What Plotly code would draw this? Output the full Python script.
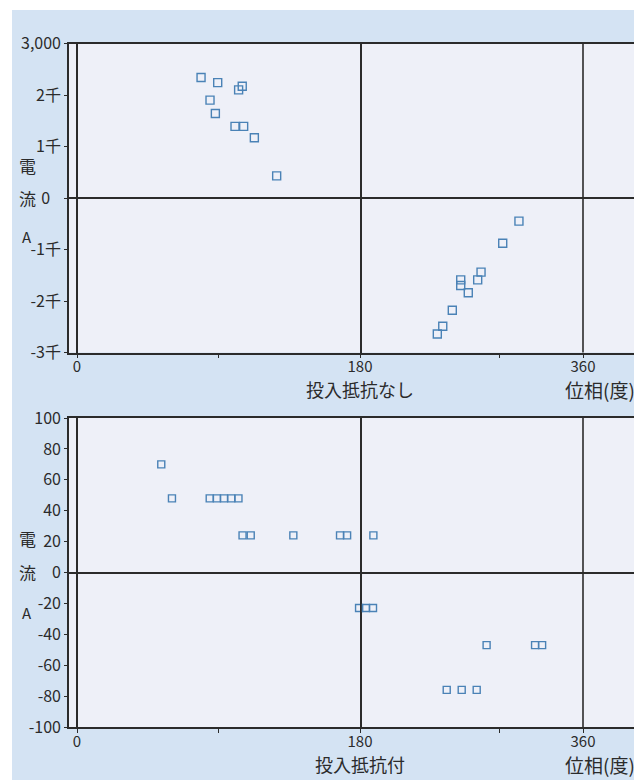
import plotly.graph_objects as go

W, H = 634, 780
FONT = "Noto Sans CJK JP"
INK = "#2b2b2b"
MARK = "#4a82b6"

# Phase (deg) and current (A) samples, no series resistor
phase_open = [78.9, 89.5, 105.1, 102.8, 84.6, 88.0, 100.5, 106.0, 112.8, 127.0,
              308.3, 295.2, 277.7, 275.0, 261.3, 261.3, 267.4, 254.5, 246.8, 242.4]
current_open = [2340, 2240, 2170, 2100, 1900, 1640, 1390, 1390, 1170, 430,
                -450, -880, -1440, -1590, -1590, -1700, -1840, -2180, -2490, -2640]

# Phase (deg) and current (A) samples, with series resistor
phase_res = [53.6, 60.4, 84.4, 89.0, 93.5, 98.1, 102.7, 105.3, 110.5, 137.6,
             167.3, 171.8, 190.8, 179.4, 184.8, 190.5, 282.2, 321.3, 327.0,
             250.0, 262.1, 274.2]
current_res = [70, 48, 48, 48, 48, 48, 48, 24, 24, 24,
               24, 24, 24, -23, -23, -23, -47, -47, -47,
               -76, -76, -76]

y_ticks_open = [-3000, -2000, -1000, 0, 1000, 2000, 3000]
y_text_open = ["-3千", "-2千", "-1千", "0\u00a0\u00a0\u00a0", "1千", "2千", "3,000"]
y_ticks_res = [-100, -80, -60, -40, -20, 0, 20, 40, 60, 80, 100]
y_text_res = ["-100", "-80", "-60", "-40", "-20", "0", "20", "40", "60", "80", "100"]

x_ticks_left = [0, 90]
x_text_left = ["0", ""]
x_ticks_right = [180, 293, 360]
x_text_right = ["180", "", "360"]


def fx(px):
    return px / W


def fy(py):
    return 1 - py / H


# The phase axis is drawn in two linear halves: 0-180 and 180-360
LEFT_DOM = [fx(69), fx(360)]
RIGHT_DOM = [fx(360), 1.0]
LEFT_RANGE = [-8 * 180 / 283, 180]
RIGHT_RANGE = [180, 180 + 274 * 180 / 223]

panels = [
    dict(dom=[fy(352.5), fy(43.5)], yr=[-3000, 3000], tv=y_ticks_open, tt=y_text_open,
         xs=phase_open, ys=current_open, size=8,
         xtitle="投入抵抗なし", ytitle_y=[165, 198, 236], xtitle_y=389),
    dict(dom=[fy(727), fy(418)], yr=[-100, 100], tv=y_ticks_res, tt=y_text_res,
         xs=phase_res, ys=current_res, size=7,
         xtitle="投入抵抗付", ytitle_y=[538, 572, 612], xtitle_y=764),
]

fig = go.Figure()
layout = dict(
    width=W, height=H,
    autosize=False,
    margin=dict(l=0, r=0, t=0, b=0, pad=0, autoexpand=False),
    paper_bgcolor="white",
    plot_bgcolor="rgba(0,0,0,0)",
    showlegend=False,
    font=dict(family=FONT, size=16, color=INK),
)

shapes = [
    dict(type="rect", xref="paper", yref="paper", x0=fx(12), x1=1, y0=0, y1=fy(10),
         fillcolor="#d4e3f3", line=dict(width=0), layer="below"),
]
annotations = []


def sx(n):
    return "x" if n == 1 else f"x{n}"


def sy(n):
    return "y" if n == 1 else f"y{n}"


for i, p in enumerate(panels):
    nl, nr = 2 * i + 1, 2 * i + 2

    shapes.append(dict(type="rect", xref="paper", yref="paper", x0=fx(69), x1=1,
                       y0=p["dom"][0], y1=p["dom"][1], fillcolor="#eef0f8",
                       line=dict(width=0), layer="below"))

    axis_common = dict(showgrid=False, linecolor=INK, linewidth=1.6,
                       tickcolor=INK, tickwidth=1.4, ticks="outside",
                       automargin=False, fixedrange=True,
                       tickfont=dict(family=FONT, size=16, color=INK))
    x_common = dict(axis_common, ticklabelstandoff=-4,
                    tickfont=dict(family=FONT, size=15, color=INK))

    layout[f"xaxis{'' if nl == 1 else nl}"] = dict(
        x_common, domain=LEFT_DOM, range=LEFT_RANGE, anchor=sy(nl),
        showline=True, mirror=True, ticklen=4, tickmode="array",
        tickvals=x_ticks_left, ticktext=x_text_left,
        zeroline=True, zerolinecolor=INK, zerolinewidth=1.6)
    layout[f"xaxis{nr}"] = dict(
        x_common, domain=RIGHT_DOM, range=RIGHT_RANGE, anchor=sy(nr),
        showline=True, mirror=True, ticklen=4, tickmode="array",
        tickvals=x_ticks_right, ticktext=x_text_right, zeroline=False)
    layout[f"yaxis{'' if nl == 1 else nl}"] = dict(
        axis_common, domain=p["dom"], range=p["yr"], anchor=sx(nl),
        showline=True, mirror=True, ticklen=3, tickmode="array",
        tickvals=p["tv"], ticktext=p["tt"],
        zeroline=True, zerolinecolor=INK, zerolinewidth=1.6)
    layout[f"yaxis{nr}"] = dict(
        domain=p["dom"], range=p["yr"], anchor=sx(nr), showgrid=False,
        showline=False, showticklabels=False, ticks="", automargin=False,
        zeroline=True, zerolinecolor=INK, zerolinewidth=1.6, fixedrange=True)

    # 360-degree line
    shapes.append(dict(type="line", xref=sx(nr), yref="paper", x0=360, x1=360,
                       y0=p["dom"][0], y1=p["dom"][1],
                       line=dict(color=INK, width=1.6)))

    # samples split between the two halves of the phase axis
    left = [(x, y) for x, y in zip(p["xs"], p["ys"]) if x < 180]
    right = [(x, y) for x, y in zip(p["xs"], p["ys"]) if x >= 180]
    for pts, ax, ay in [(left, sx(nl), sy(nl)), (right, sx(nr), sy(nr))]:
        fig.add_trace(go.Scatter(
            x=[q[0] for q in pts], y=[q[1] for q in pts], xaxis=ax, yaxis=ay,
            mode="markers", cliponaxis=False,
            marker=dict(symbol="square-open", size=p["size"], color=MARK,
                        line=dict(width=1.4, color=MARK))))

    # vertical axis caption
    for ch, yy in zip(["電", "流", "A"], p["ytitle_y"]):
        annotations.append(dict(text=ch, xref="paper", yref="paper",
                                x=fx(27), y=fy(yy), showarrow=False,
                                xanchor="center", yanchor="middle",
                                font=dict(family=FONT, size=17 if ch != "A" else 15,
                                          color=INK)))
    # horizontal axis captions
    annotations.append(dict(text=p["xtitle"], xref="paper", yref="paper",
                            x=fx(360), y=fy(p["xtitle_y"]), showarrow=False,
                            xanchor="center", yanchor="middle",
                            font=dict(family=FONT, size=18, color=INK)))
    annotations.append(dict(text="位相(度)", xref="paper", yref="paper",
                            x=fx(563), y=fy(p["xtitle_y"]), showarrow=False,
                            xanchor="left", yanchor="middle",
                            font=dict(family=FONT, size=19, color=INK)))

layout["shapes"] = shapes
layout["annotations"] = annotations
fig.update_layout(**layout)
fig.write_html("out.html")
